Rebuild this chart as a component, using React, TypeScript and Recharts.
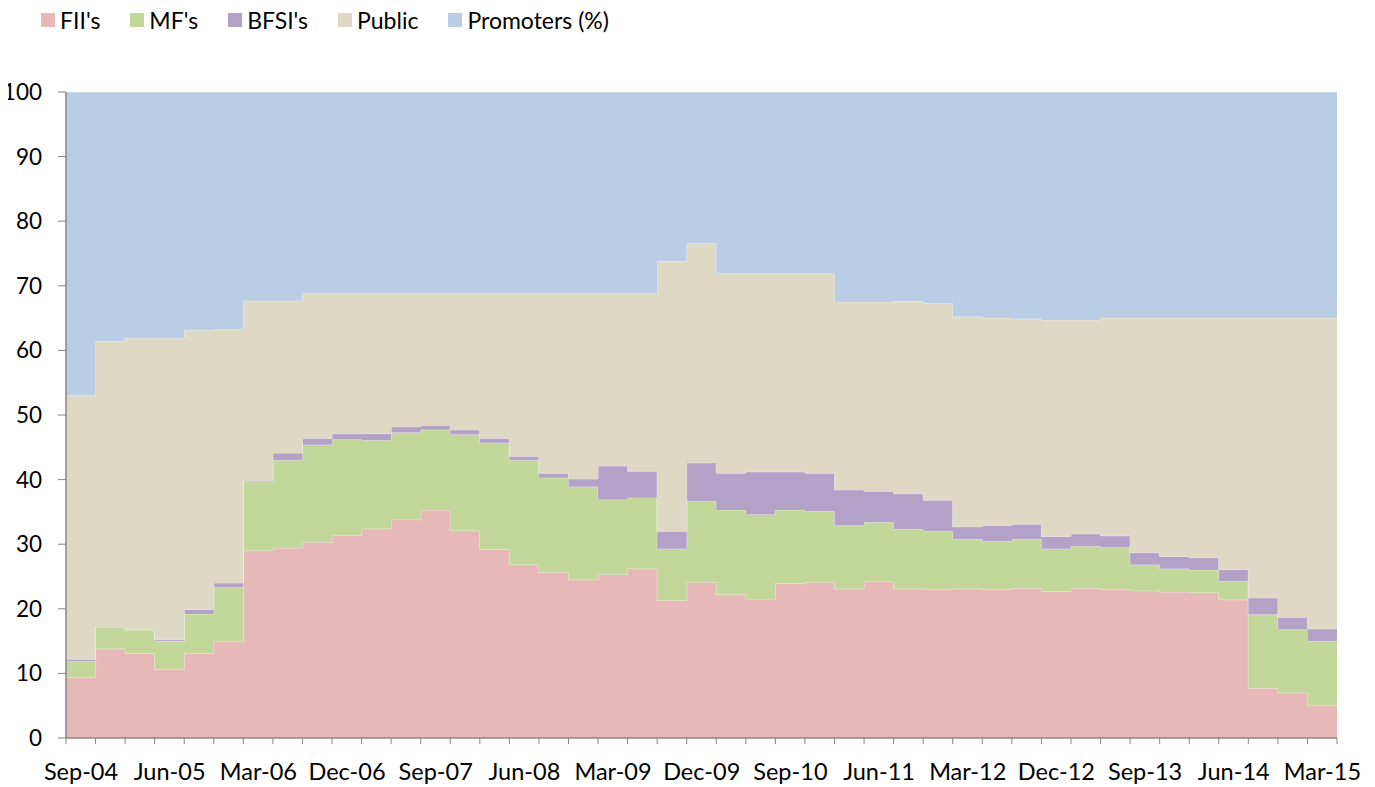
import React from 'react';
import { AreaChart, Area, XAxis, YAxis } from 'recharts';

const quarters = [
  'Sep-04', 'Dec-04', 'Mar-05', 'Jun-05', 'Sep-05', 'Dec-05', 'Mar-06', 'Jun-06', 'Sep-06',
  'Dec-06', 'Mar-07', 'Jun-07', 'Sep-07', 'Dec-07', 'Mar-08', 'Jun-08', 'Sep-08', 'Dec-08',
  'Mar-09', 'Jun-09', 'Sep-09', 'Dec-09', 'Mar-10', 'Jun-10', 'Sep-10', 'Dec-10', 'Mar-11',
  'Jun-11', 'Sep-11', 'Dec-11', 'Mar-12', 'Jun-12', 'Sep-12', 'Dec-12', 'Mar-13', 'Jun-13',
  'Sep-13', 'Dec-13', 'Mar-14', 'Jun-14', 'Sep-14', 'Dec-14', 'Mar-15',
];

const fii = [
  9.4, 13.8, 13.1, 10.6, 13.1, 15.0, 29.0, 29.4, 30.3, 31.4, 32.4, 33.8, 35.3, 32.1, 29.2,
  26.8, 25.6, 24.5, 25.3, 26.2, 21.3, 24.1, 22.2, 21.5, 23.9, 24.1, 23.1, 24.2, 23.1, 23.0,
  23.1, 23.0, 23.2, 22.7, 23.2, 23.0, 22.8, 22.6, 22.5, 21.4, 7.7, 7.0, 5.0,
];
const mf = [
  2.5, 3.3, 3.6, 4.4, 6.1, 8.3, 10.7, 13.6, 15.1, 14.8, 13.7, 13.5, 12.4, 14.9, 16.5,
  16.2, 14.7, 14.4, 11.6, 11.0, 8.0, 12.6, 13.1, 13.1, 11.4, 11.0, 9.8, 9.2, 9.2, 9.0,
  7.7, 7.5, 7.6, 6.6, 6.5, 6.5, 4.0, 3.6, 3.5, 2.9, 11.4, 9.8, 10.0,
];
const bfsi = [
  0.3, 0.1, 0.1, 0.2, 0.7, 0.7, 0.2, 1.1, 1.0, 0.9, 1.0, 0.9, 0.7, 0.7, 0.7,
  0.6, 0.7, 1.2, 5.2, 4.1, 2.7, 5.9, 5.7, 6.6, 5.9, 5.9, 5.5, 4.8, 5.5, 4.8,
  1.9, 2.4, 2.3, 1.9, 1.9, 1.8, 1.9, 1.9, 1.9, 1.8, 2.6, 1.9, 1.9,
];
const publicHolding = [
  40.8, 44.2, 45.1, 46.7, 43.2, 39.3, 27.8, 23.6, 22.5, 21.8, 21.8, 20.7, 20.5, 21.2, 22.5,
  25.3, 27.9, 28.8, 26.8, 27.6, 41.8, 34.0, 30.9, 30.7, 30.7, 30.9, 29.1, 29.3, 29.8, 30.5,
  32.5, 32.1, 31.8, 33.5, 33.1, 33.7, 36.3, 36.9, 37.1, 38.9, 43.3, 46.3, 48.1,
];
const promoters = [
  47.0, 38.6, 38.1, 38.1, 36.9, 36.7, 32.3, 32.3, 31.1, 31.1, 31.1, 31.1, 31.1, 31.1, 31.1,
  31.1, 31.1, 31.1, 31.1, 31.1, 26.2, 23.4, 28.1, 28.1, 28.1, 28.1, 32.5, 32.5, 32.4, 32.7,
  34.8, 35.0, 35.1, 35.3, 35.3, 35.0, 35.0, 35.0, 35.0, 35.0, 35.0, 35.0, 35.0,
];

const series = [
  { key: 'fii', name: "FII's", color: '#E6B9B8' },
  { key: 'mf', name: "MF's", color: '#C4D79B' },
  { key: 'bfsi', name: "BFSI's", color: '#B3A2C7' },
  { key: 'pub', name: 'Public', color: '#DDD9C4' },
  { key: 'prom', name: 'Promoters (%)', color: '#B9CDE5' },
];

const yTicks = [0, 10, 20, 30, 40, 50, 60, 70, 80, 90, 100];

const rows = quarters.map((q, i) => ({
  i,
  q,
  fii: fii[i],
  mf: mf[i],
  bfsi: bfsi[i],
  pub: publicHolding[i],
  prom: promoters[i],
}));
// last step needs an end point so the final quarter gets its width
const last = rows[rows.length - 1];
const data = [...rows, { ...last, i: rows.length }];
const xTicks = data.map((d) => d.i);

const FONT = 'Lato, "Open Sans", sans-serif';

const ChartLegend = () => (
  <div
    style={{
      position: 'absolute',
      left: 33,
      top: 0,
      display: 'flex',
      fontFamily: FONT,
      fontSize: 23,
      lineHeight: '24px',
    }}
  >
    {series.map((s) => (
      <div key={s.key} style={{ display: 'flex', alignItems: 'center', marginRight: 30 }}>
        <span style={{ width: 14, height: 14, background: s.color, display: 'inline-block', marginRight: 5 }} />
        <span style={{ color: '#000' }}>{s.name}</span>
      </div>
    ))}
  </div>
);

export default function App() {
  return (
    <div style={{ position: 'relative', width: 1360, height: 780 }}>
      {/* the "100" label sits slightly left of the svg edge */}
      <style>{'.recharts-surface { overflow: visible; }'}</style>
      <ChartLegend />
      <AreaChart
        width={1360}
        height={780}
        data={data}
        margin={{ top: 84, right: 31, left: 0, bottom: 10 }}
      >
        <XAxis
          dataKey="i"
          type="number"
          domain={[0, quarters.length]}
          ticks={xTicks}
          interval={0}
          tickFormatter={(v: number) => (v % 3 === 0 && v < quarters.length ? quarters[v] : '')}
          axisLine={{ stroke: '#868686', strokeWidth: 1.5 }}
          tickLine={{ stroke: '#868686' }}
          tickSize={6}
          tickMargin={19}
          height={40}
          tick={{ fill: '#000', fontSize: 23.5, fontFamily: FONT, dx: 15 }}
        />
        <YAxis
          type="number"
          domain={[0, 100]}
          ticks={yTicks}
          interval={0}
          axisLine={{ stroke: '#868686', strokeWidth: 1.5 }}
          tickLine={{ stroke: '#868686' }}
          tickSize={8}
          tickMargin={16}
          width={58}
          tick={{ fill: '#000', fontSize: 22.5, fontFamily: FONT }}
        />
        {series.map((s) => (
          <Area
            key={s.key}
            dataKey={s.key}
            name={s.name}
            type="stepAfter"
            stackId="1"
            fill={s.color}
            fillOpacity={1}
            stroke="#ffffff"
            strokeOpacity={0.45}
            strokeWidth={1}
            isAnimationActive={false}
          />
        ))}
      </AreaChart>
    </div>
  );
}
